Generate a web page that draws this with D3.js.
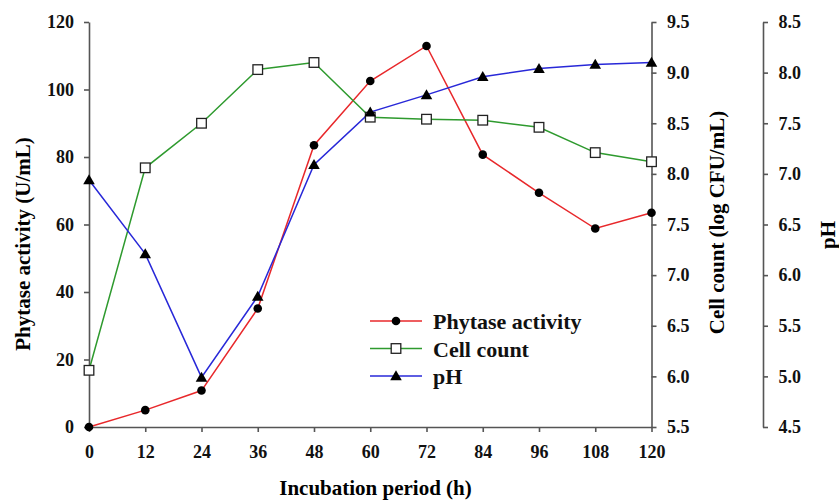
<!DOCTYPE html>
<html><head><meta charset="utf-8">
<script src="https://cdn.jsdelivr.net/npm/d3@7"></script>
<style>body{margin:0;background:#fff}svg{display:block}text{font-family:"Liberation Serif","Times New Roman",serif;font-weight:bold}</style>
</head><body>
<script>
const hours = [0,12,24,36,48,60,72,84,96,108,120];
const phytase = [0,5.0,10.8,35.1,83.5,102.5,112.9,80.7,69.4,58.8,63.5];
const cellCount = [6.06,8.06,8.50,9.03,9.10,8.56,8.54,8.53,8.46,8.21,8.12];
const pH = [6.94,6.21,4.99,5.79,7.09,7.61,7.78,7.96,8.04,8.08,8.10];
const xTicks = [0,12,24,36,48,60,72,84,96,108,120];
const yLeftTicks = [0,20,40,60,80,100,120];
const yCellTicks = [5.5,6.0,6.5,7.0,7.5,8.0,8.5,9.0,9.5];
const yPHTicks = [4.5,5.0,5.5,6.0,6.5,7.0,7.5,8.0,8.5];
const seriesNames = ["Phytase activity","Cell count","pH"];

const W=839,H=503;
const svg=d3.select("body").append("svg").attr("width",W).attr("height",H);
const x=d3.scaleLinear().domain([0,120]).range([89,651.5]);
const yL=d3.scaleLinear().domain([0,120]).range([427,22]);
const yC=d3.scaleLinear().domain([5.5,9.5]).range([427,22]);
const yP=d3.scaleLinear().domain([4.5,8.5]).range([427,22]);
const axisCol="#555";

function styleAxis(g){
  g.selectAll("path,line").attr("stroke",axisCol).attr("stroke-width",1.6);
  g.selectAll("text").attr("fill","#111").style("font-size","18px");
}
svg.append("g").attr("transform","translate(0,427)")
  .call(d3.axisBottom(x).tickValues(xTicks).tickSize(5).tickSizeOuter(0).tickPadding(13))
  .call(styleAxis);
svg.append("g").attr("transform","translate(89,0)")
  .call(d3.axisLeft(yL).tickValues(yLeftTicks).tickSize(5).tickSizeOuter(0).tickPadding(10))
  .call(styleAxis);
svg.append("g").attr("transform","translate(651.5,0)")
  .call(d3.axisRight(yC).tickValues(yCellTicks).tickFormat(d3.format(".1f")).tickSize(5).tickSizeOuter(0).tickPadding(10.5))
  .call(styleAxis);
svg.append("g").attr("transform","translate(763,0)")
  .call(d3.axisRight(yP).tickValues(yPHTicks).tickFormat(d3.format(".1f")).tickSize(5).tickSizeOuter(0).tickPadding(10.5))
  .call(styleAxis);

// titles
svg.append("text").attr("transform","translate(30,244) rotate(-90)").attr("text-anchor","middle").style("font-size","21px").text("Phytase activity (U/mL)");
svg.append("text").attr("transform","translate(724,222.5) rotate(-90)").attr("text-anchor","middle").style("font-size","21px").text("Cell count (log CFU/mL)");
svg.append("text").attr("transform","translate(835,235) rotate(-90)").attr("text-anchor","middle").style("font-size","21px").text("pH");
svg.append("text").attr("x",375.5).attr("y",495).attr("text-anchor","middle").style("font-size","21px").text("Incubation period (h)");

const colors=["#e8282b","#2e9a2e","#2828d8"];
const scales=[yL,yC,yP];
const datas=[phytase,cellCount,pH];
const tri=d3.symbol().type(d3.symbolTriangle).size(58);

function marker(g,i,cx,cy){
  if(i===0) g.append("circle").attr("cx",cx).attr("cy",cy).attr("r",4.3).attr("fill","#000");
  else if(i===1) g.append("rect").attr("x",cx-4.8).attr("y",cy-4.8).attr("width",9.6).attr("height",9.6).attr("fill","#fff").attr("stroke","#222").attr("stroke-width",1.3);
  else g.append("path").attr("d",tri).attr("transform",`translate(${cx},${cy+1})`).attr("fill","#000");
}

datas.forEach((d,i)=>{
  const line=d3.line().x((v,j)=>x(hours[j])).y(v=>scales[i](v));
  svg.append("path").attr("d",line(d)).attr("fill","none").attr("stroke",colors[i]).attr("stroke-width",1.5);
});
[1,2,0].forEach(i=>{
  const g=svg.append("g");
  datas[i].forEach((v,j)=>marker(g,i,x(hours[j]),scales[i](v)));
});

// legend
const lg=svg.append("g");
seriesNames.forEach((n,i)=>{
  const yy=321+i*27.5;
  lg.append("line").attr("x1",370).attr("x2",422).attr("y1",yy).attr("y2",yy).attr("stroke",colors[i]).attr("stroke-width",1.5);
  marker(lg,i,396,yy);
  lg.append("text").attr("x",433).attr("y",yy+8).style("font-size","22px").attr("fill","#111").text(n);
});
</script>
</body></html>
